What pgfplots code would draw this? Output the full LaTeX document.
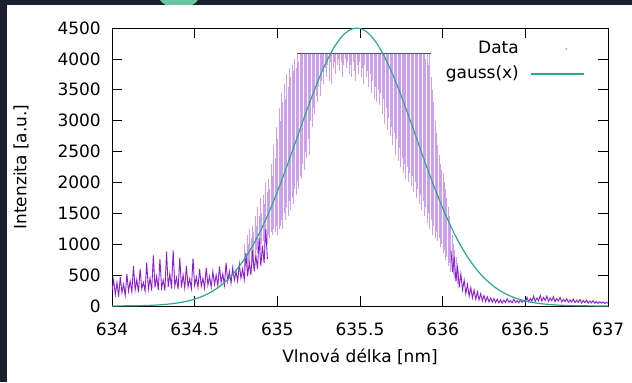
\documentclass[border=0pt]{standalone}
\usepackage{pgfplots}
\pgfplotsset{compat=1.18}
\usepackage{pgfplotstable}
\usepackage{fontspec}
\setmainfont{DejaVu Sans}
\definecolor{datacol}{HTML}{8B1ED0}
\definecolor{gausscol}{HTML}{2EA88C}
\definecolor{darkbg}{HTML}{1B212C}
\definecolor{blob}{HTML}{6CC3A0}
\newcommand{\lblfont}{\fontsize{17bp}{20bp}\selectfont}

\pgfplotstableread{
x y
634.00 250
634.01 420
634.02 180
634.03 380
634.04 150
634.05 470
634.06 220
634.07 350
634.08 170
634.09 520
634.10 240
634.11 400
634.12 230
634.13 650
634.14 260
634.15 430
634.16 220
634.17 600
634.18 280
634.19 380
634.20 240
634.21 700
634.22 270
634.23 450
634.24 250
634.25 820
634.26 300
634.27 480
634.28 260
634.29 760
634.30 290
634.31 420
634.32 250
634.33 880
634.34 310
634.35 520
634.36 280
634.37 900
634.38 320
634.39 460
634.40 270
634.41 780
634.42 300
634.43 500
634.44 290
634.45 650
634.46 310
634.47 440
634.48 280
634.49 770
634.50 330
634.51 470
634.52 300
634.53 600
634.54 320
634.55 450
634.56 290
634.57 620
634.58 340
634.59 480
634.60 310
634.61 560
634.62 350
634.63 500
634.64 330
634.65 640
634.66 380
634.67 520
634.68 340
634.69 700
634.70 400
634.71 560
634.72 370
634.73 620
634.74 420
634.75 560
634.76 400
634.77 680
634.78 450
634.79 600
634.80 430
634.81 860
634.82 480
634.83 700
634.84 500
634.85 900
634.86 560
634.87 820
634.88 600
634.89 1100
634.90 650
634.91 980
634.92 700
634.93 1250
634.94 760
}\lefttail

\pgfplotstableread{
x lo hi
634.800 600 1000
634.808 650 850
634.816 600 1150
634.824 700 1000
634.832 650 1250
634.840 750 1100
634.848 700 1300
634.856 800 1200
634.864 850 1450
634.872 900 1300
634.880 850 1600
634.888 950 1450
634.896 900 1750
634.904 1000 1500
634.912 1050 1800
634.920 950 1650
634.928 1100 2000
634.936 1000 1850
634.944 1150 2050
634.952 1100 1900
634.960 1200 2300
634.968 1150 2100
634.976 1250 2600
634.984 1200 2400
634.992 1300 2900
635.000 1150 2700
635.008 1250 3200
635.016 1300 3000
635.024 1400 3450
635.032 1250 3300
635.040 1500 3600
635.048 1400 3350
635.056 1600 3750
635.064 1450 3550
635.072 1700 3850
635.080 1550 3700
635.088 1750 3900
635.096 1650 3800
635.104 1900 4000
635.112 1800 3850
635.120 2000 4095
635.128 1900 3950
635.136 2100 4095
635.144 2050 4095
635.152 2300 4095
635.160 2200 4095
635.168 2500 4095
635.176 2400 4095
635.184 2700 4095
635.192 2450 4095
635.200 3000 4095
635.208 2900 4095
635.216 3200 4095
635.224 3100 4095
635.232 3400 4095
635.240 3300 4095
635.248 3550 4095
635.256 3400 4095
635.264 3650 4095
635.272 3800 4095
635.280 3600 4095
635.288 3850 4095
635.296 3700 4095
635.304 3900 4095
635.312 3650 4095
635.320 3950 4095
635.328 3600 4095
635.336 3850 4095
635.344 3950 4095
635.352 3750 4095
635.360 3900 4095
635.368 4000 4095
635.376 3800 4095
635.384 3950 4095
635.392 3700 4095
635.400 3900 4095
635.408 4000 4095
635.416 3850 4095
635.424 3950 4095
635.432 3750 4095
635.440 3900 4095
635.448 3700 4095
635.456 3950 4095
635.464 3800 4095
635.472 3650 4095
635.480 3900 4095
635.488 3750 4095
635.496 3950 4095
635.504 3700 4095
635.512 3850 4095
635.520 3600 4095
635.528 3900 4095
635.536 3700 4095
635.544 3800 4095
635.552 3550 4095
635.560 3750 4095
635.568 3450 4095
635.576 3650 4095
635.584 3350 4095
635.592 3550 4095
635.600 3300 4095
635.608 3500 4095
635.616 3250 4095
635.624 3450 4095
635.632 3100 4095
635.640 3350 4095
635.648 2950 4095
635.656 3200 4095
635.664 2850 4095
635.672 3050 4095
635.680 2750 4095
635.688 2900 4095
635.696 2600 4095
635.704 2800 4095
635.712 2450 4095
635.720 2700 4095
635.728 2350 4095
635.736 2550 4095
635.744 2250 4095
635.752 2400 4095
635.760 2150 4095
635.768 2300 4095
635.776 2050 4095
635.784 2250 4095
635.792 2000 4095
635.800 2150 4095
635.808 1950 4095
635.816 2100 4095
635.824 1850 4095
635.832 2000 4095
635.840 1750 4095
635.848 1900 4095
635.856 1650 4095
635.864 1800 4095
635.872 1550 4095
635.880 1700 4095
635.888 1450 4095
635.896 1600 4000
635.904 1350 4095
635.912 1500 3900
635.920 1250 4095
635.928 1400 3700
635.936 1150 3500
635.944 1300 3300
635.952 1100 3000
635.960 1200 2800
635.968 1050 2600
635.976 1100 2450
635.984 950 2300
635.992 1000 2200
636.000 850 2150
636.008 900 2000
636.016 750 1900
636.024 800 1750
636.032 650 1600
636.040 700 1450
636.048 550 1300
636.056 600 1150
636.064 500 1000
636.072 450 900
636.080 400 800
636.088 350 700
}\streaks

\pgfplotstableread{
x y
636.05 900
636.06 550
636.07 800
636.08 400
636.09 650
636.10 300
636.11 520
636.12 260
636.13 420
636.14 200
636.15 350
636.16 160
636.17 300
636.18 130
636.19 260
636.20 110
636.21 230
636.22 100
636.23 200
636.24 80
636.25 170
636.26 70
636.27 150
636.28 65
636.29 130
636.30 60
636.31 120
636.32 55
636.33 110
636.34 50
636.35 100
636.36 45
636.37 95
636.38 55
636.39 120
636.40 60
636.41 90
636.42 50
636.43 110
636.44 55
636.45 85
636.46 50
636.47 100
636.48 60
636.49 90
636.50 65
636.51 140
636.52 70
636.53 120
636.54 80
636.55 160
636.56 75
636.57 130
636.58 85
636.59 170
636.60 80
636.61 140
636.62 90
636.63 160
636.64 75
636.65 130
636.66 85
636.67 150
636.68 70
636.69 120
636.70 80
636.71 140
636.72 65
636.73 110
636.74 70
636.75 120
636.76 60
636.77 100
636.78 65
636.79 110
636.80 55
636.81 95
636.82 60
636.83 105
636.84 50
636.85 90
636.86 55
636.87 95
636.88 45
636.89 80
636.90 50
636.91 85
636.92 45
636.93 75
636.94 40
636.95 70
636.96 45
636.97 65
636.98 40
636.99 60
637.00 45
}\righttail

\pgfplotstableread{
x y
634.00 1
634.05 2
634.10 3
634.15 5
634.20 8
634.25 13
634.30 21
634.35 33
634.40 50
634.45 75
634.50 111
634.55 160
634.60 227
634.65 315
634.70 430
634.75 576
634.80 756
634.85 973
634.90 1229
634.95 1522
635.00 1850
635.05 2205
635.10 2578
635.15 2957
635.20 3326
635.25 3669
635.30 3971
635.35 4216
635.40 4390
635.45 4484
635.50 4493
635.55 4416
635.60 4257
635.65 4025
635.70 3734
635.75 3397
635.80 3031
635.85 2654
635.90 2278
635.95 1919
636.00 1585
636.05 1285
636.10 1021
636.15 796
636.20 609
636.25 457
636.30 336
636.35 243
636.40 172
636.45 119
636.50 81
636.55 54
636.60 36
636.65 23
636.70 14
636.75 9
636.80 5
636.85 3
636.90 2
636.95 1
637.00 1
}\gauss

\begin{document}
\begin{tikzpicture}[x=1bp,y=1bp]
\fill[darkbg] (0,0) rectangle (632,382);
\fill[white] (7,0) rectangle (632,377);
\begin{scope}
\clip (7,377) rectangle (632,382);
\fill[blob] (179,386) ellipse [x radius=20, y radius=12];
\end{scope}
\begin{axis}[
  at={(112bp,76bp)}, anchor=south west,
  width=496bp, height=278bp, scale only axis,
  xmin=634, xmax=637, ymin=0, ymax=4500,
  xtick={634,634.5,...,637}, ytick={0,500,...,4500},
  scaled ticks=false,
  /pgf/number format/.cd, fixed, precision=1, 1000 sep={}, assume math mode=true,
  /pgfplots/.cd,
  tick pos=both, tick align=inside,
  major tick length=10bp,
  tick style={black, line width=0.7bp},
  axis line style={black, line width=0.9bp},
  ticklabel style={font=\lblfont, inner sep=0pt},
  xticklabel style={anchor=center, yshift=-23bp},
  yticklabel style={anchor=east, xshift=-11bp},
  label style={font=\lblfont},
  xlabel={Vlnová délka [nm]},
  ylabel={Intenzita [a.u.]},
  xlabel style={at={(axis description cs:0.5,-0.1835)}, anchor=center},
  ylabel style={at={(axis description cs:-0.1835,0.5)}, anchor=center},
  legend cell align=right,
  legend plot pos=right,
  legend style={draw=none, fill=none, at={(axis cs:636.861,4298)}, anchor=north east,
    inner sep=0pt, outer sep=0pt, row sep=8bp, column sep=12bp, font=\lblfont,
    nodes={inner sep=0pt, text height=13bp, text depth=4bp}},
]
\addplot[datacol, line width=0.9bp, mark=none,
  legend image code/.code={\fill[black!25] (35bp,0bp) circle (0.6bp);}]
  table[x=x, y=y] {\lefttail};
\addlegendentry{Data}
\addplot[forget plot, only marks, mark=*, mark size=0pt,
  mark options={draw=none, fill=none},
  error bars/.cd, y dir=minus, y explicit, error mark=none,
  error bar style={draw=datacol, line width=0.3bp, draw opacity=0.42}]
  table[x=x, y=hi, y error minus expr=\thisrow{hi}-\thisrow{lo}] {\streaks};
\addplot[forget plot, draw=datacol, line width=1bp, mark=none]
  coordinates {(635.12,4095) (635.93,4095)};
\addplot[forget plot, datacol, line width=0.9bp, mark=none]
  table[x=x, y=y] {\righttail};
\addplot[gausscol, line width=1.2bp, mark=none, smooth,
  legend image code/.code={\draw[gausscol, line width=1.2bp] (0bp,0bp) -- (53bp,0bp);}]
  table[x=x, y=y] {\gauss};
\addlegendentry{gauss(x)}
\end{axis}
\pgfresetboundingbox
\useasboundingbox (0,0) rectangle (632,382);
\end{tikzpicture}
\end{document}
